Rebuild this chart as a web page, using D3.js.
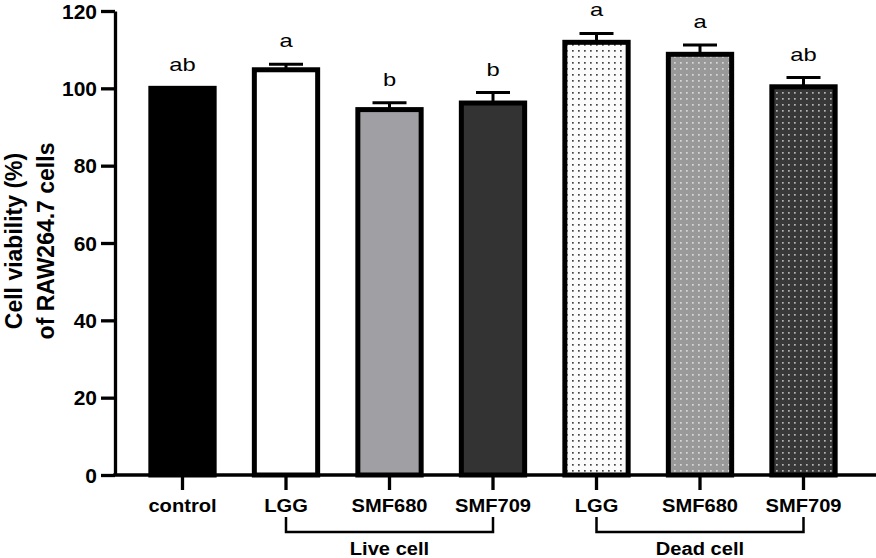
<!DOCTYPE html>
<html><head><meta charset="utf-8">
<script src="https://cdn.jsdelivr.net/npm/d3@7"></script>
<style>
body{margin:0;background:#fff;}
svg{font-family:Arial,"Liberation Sans",sans-serif;}
</style></head>
<body>
<svg id="c" width="876" height="558"></svg>
<script>
const categories = ["control","LGG","SMF680","SMF709","LGG ","SMF680 ","SMF709 "];
const tickLabels = ["control","LGG","SMF680","SMF709","LGG","SMF680","SMF709"];
const values = [100, 104.8, 94.5, 96.2, 111.9, 108.8, 100.4];
const errors = [0, 1.4, 1.8, 2.7, 2.3, 2.4, 2.4];
const letters = ["ab","a","b","b","a","a","ab"];
const fills = ["#000000","#ffffff","#a0a0a4","#333333","url(#dotLight)","url(#dotGrey)","url(#dotDark)"];
const groups = [{name:"Live cell", from:1, to:3},{name:"Dead cell", from:4, to:6}];
const yTicks = [0,20,40,60,80,100,120];

const FF = "Arial,'Liberation Sans',sans-serif";
const svg = d3.select("#c");
const defs = svg.append("defs");
function dotPattern(id, bg, dot){
  const p = defs.append("pattern").attr("id",id).attr("patternUnits","userSpaceOnUse")
    .attr("width",6).attr("height",6);
  p.append("rect").attr("width",6).attr("height",6).attr("fill",bg);
  p.append("rect").attr("x",2).attr("y",2).attr("width",1.7).attr("height",1.7).attr("fill",dot);
}
dotPattern("dotLight","#fbfbfb","#444");
dotPattern("dotGrey","#999999","#d8d8d8");
dotPattern("dotDark","#383838","#b5b5b5");

const x = d3.scaleBand().domain(categories).range([130.75, 855.25]).paddingInner(0.34).paddingOuter(0.17);
const y = d3.scaleLinear().domain([0,120]).range([475, 11]);

// bars
const g = svg.append("g");
categories.forEach((c,i)=>{
  const bw = x.bandwidth();
  const x0 = x(c);
  const cx = x0 + bw/2;
  if(errors[i]>0){
    g.append("line").attr("x1",cx).attr("x2",cx).attr("y1",y(values[i])).attr("y2",y(values[i]+errors[i]))
      .attr("stroke","#000").attr("stroke-width",3);
    g.append("line").attr("x1",cx-17).attr("x2",cx+17).attr("y1",y(values[i]+errors[i])).attr("y2",y(values[i]+errors[i]))
      .attr("stroke","#000").attr("stroke-width",3);
  }
  g.append("rect").attr("x",x0+2.5).attr("y",y(values[i])).attr("width",bw-5).attr("height",y(0)-y(values[i]))
    .attr("fill",fills[i]).attr("stroke","#000").attr("stroke-width",5);
  g.append("text").attr("transform",`translate(${cx},${y(values[i]+errors[i])-17}) scale(1.25,1)`)
    .attr("text-anchor","middle").attr("font-size",19).attr("fill","#000").text(letters[i]);
});

// y axis
const yAxis = svg.append("g").attr("transform","translate(115,0)")
  .call(d3.axisLeft(y).tickValues(yTicks).tickSize(14).tickSizeOuter(0).tickPadding(4));
yAxis.select(".domain").attr("stroke-width",3.3);
yAxis.selectAll(".tick line").attr("stroke-width",3.3);
yAxis.selectAll(".tick text").attr("font-size",20).attr("font-weight","bold").attr("font-family",FF)
  .attr("dy","0.35em").attr("transform","translate(-18,0) scale(1.05,1) translate(18,0)");

// x axis
const xAxis = svg.append("g").attr("transform","translate(0,475)")
  .call(d3.axisBottom(x).tickSize(15).tickSizeOuter(0).tickFormat((d,i)=>tickLabels[i]).tickPadding(10));
xAxis.select(".domain").attr("d","M113.3,0H876").attr("stroke-width",3.3);
xAxis.selectAll(".tick line").attr("stroke-width",3.3);
xAxis.selectAll(".tick text").attr("font-size",17.5).attr("font-weight","bold").attr("font-family",FF)
  .attr("transform","scale(1.15,1)");

// group brackets
groups.forEach(gr=>{
  const a = x(categories[gr.from]) + x.bandwidth()/2;
  const b = x(categories[gr.to]) + x.bandwidth()/2;
  svg.append("path").attr("d",`M${a},517V532H${b}V517`).attr("fill","none").attr("stroke","#000").attr("stroke-width",2.5);
  svg.append("text").attr("transform",`translate(${(a+b)/2},555) scale(1.06,1)`).attr("text-anchor","middle")
    .attr("font-size",19).attr("font-weight","bold").text(gr.name);
});

// y label
const yl = svg.append("text").attr("transform","translate(0,241) rotate(-90)").attr("text-anchor","middle")
  .attr("font-size",23).attr("font-weight","bold");
yl.append("tspan").attr("x",0).attr("y",22).text("Cell viability (%)");
yl.append("tspan").attr("x",0).attr("y",54).text("of RAW264.7 cells");
</script>
</body></html>
